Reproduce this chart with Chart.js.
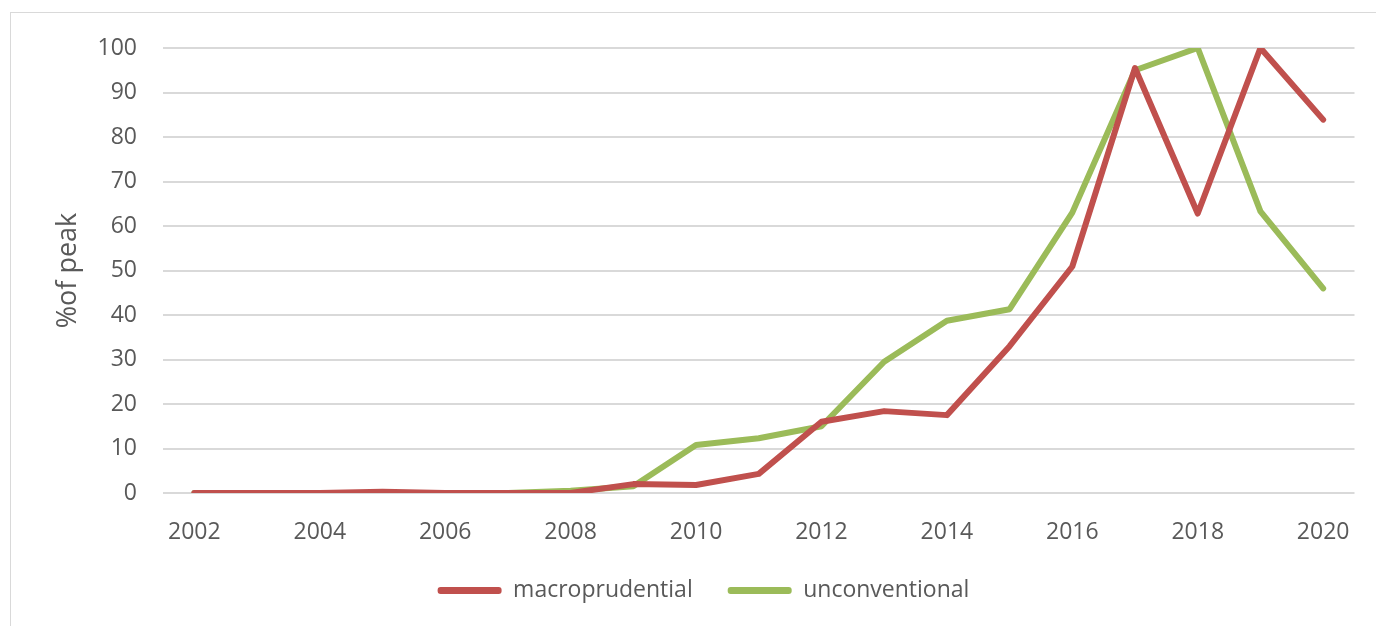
<!DOCTYPE html>
<html>
<head>
<meta charset="utf-8">
<script src="https://cdn.jsdelivr.net/npm/chart.js@4"></script>
<style>
  html, body { margin: 0; padding: 0; background: #fff; overflow: hidden; }
  #frame { position: absolute; left: 10px; top: 12px; width: 1400px; height: 700px; border: 1px solid #d9d9d9; }
  #wrap { position: absolute; left: 0; top: 0; width: 1376px; height: 626px; }
</style>
</head>
<body>
<div id="frame"></div>
<div id="wrap"><canvas id="c"></canvas></div>
<script>
const years = ['2002', '2003', '2004', '2005', '2006', '2007', '2008', '2009', '2010', '2011',
  '2012', '2013', '2014', '2015', '2016', '2017', '2018', '2019', '2020'];
const macroprudential = [0, 0, 0, 0.3, 0, 0, 0, 2, 1.8, 4.3, 16, 18.4, 17.5, 33, 50.9, 95.5, 62.8, 100, 83.9];
const unconventional = [0, 0, 0, 0, 0, 0, 0.5, 1.5, 10.8, 12.3, 15, 29.5, 38.7, 41.3, 63, 95, 100, 63.3, 46];
const yTicks = [0, 10, 20, 30, 40, 50, 60, 70, 80, 90, 100];

const textColor = '#595959';
const font = "'Open Sans', 'Liberation Sans', sans-serif";

// legend is kept short so the plot keeps its height
const legendHeight = {
  id: 'legendHeight',
  beforeInit(chart) {
    const lg = chart.legend;
    if (!lg) return;
    const fit = lg.fit;
    lg.fit = function () {
      fit.call(this);
      this.height = 82;
    };
  },
};

new Chart(document.getElementById('c'), {
  type: 'line',
  data: {
    labels: years,
    datasets: [
      {
        label: 'macroprudential',
        data: macroprudential,
        borderColor: '#c0504d',
        backgroundColor: '#c0504d',
        borderWidth: 6,
        pointRadius: 0,
        tension: 0,
        borderCapStyle: 'round',
        borderJoinStyle: 'round',
      },
      {
        label: 'unconventional',
        data: unconventional,
        borderColor: '#9bbb59',
        backgroundColor: '#9bbb59',
        borderWidth: 6,
        pointRadius: 0,
        tension: 0,
        borderCapStyle: 'round',
        borderJoinStyle: 'round',
      },
    ],
  },
  plugins: [legendHeight],
  options: {
    responsive: true,
    maintainAspectRatio: false,
    animation: false,
    layout: { padding: { left: 52, right: 21, top: 48, bottom: 0 } },
    plugins: {
      tooltip: { enabled: false },
      legend: {
        position: 'bottom',
        labels: {
          color: textColor,
          font: { family: font, size: 23 },
          boxWidth: 64,
          boxHeight: 7,
          useBorderRadius: true,
          borderRadius: 3,
          padding: 35,
          generateLabels(chart) {
            const items = Chart.defaults.plugins.legend.labels.generateLabels(chart);
            items.forEach(it => { it.lineWidth = 0; it.strokeStyle = 'transparent'; });
            return items;
          },
        },
      },
    },
    scales: {
      x: {
        offset: true,
        grid: { display: false, drawTicks: false },
        border: { display: false },
        afterFit(scale) { scale.height = 51; },
        ticks: {
          color: textColor,
          font: { family: font, size: 23 },
          autoSkip: false,
          maxRotation: 0,
          padding: 26,
          callback(val, i) { return i % 2 === 0 ? years[i] : ''; },
        },
      },
      y: {
        min: 0,
        max: 100,
        afterBuildTicks(axis) { axis.ticks = yTicks.map(v => ({ value: v })); },
        afterFit(scale) { scale.width = 111; },
        grid: { color: '#d9d9d9', lineWidth: 2, drawTicks: false },
        border: { display: false },
        title: {
          display: true,
          text: '%of peak',
          color: textColor,
          font: { family: font, size: 27 },
          padding: { top: 0, bottom: 13 },
        },
        ticks: {
          color: textColor,
          font: { family: font, size: 23 },
          padding: 26,
        },
      },
    },
  },
});
</script>
</body>
</html>
